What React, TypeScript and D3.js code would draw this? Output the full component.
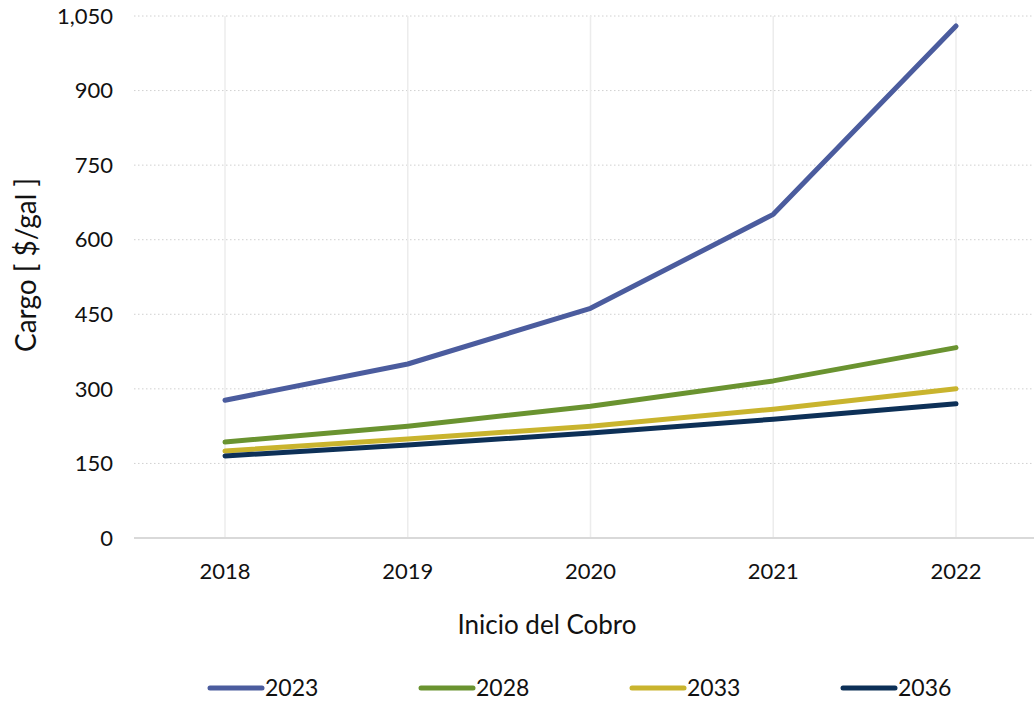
import * as d3 from 'd3';

const years = ['2018', '2019', '2020', '2021', '2022'];
const seriesNames = ['2023', '2028', '2033', '2036'];
const values2023 = [277, 350, 462, 651, 1030];
const values2028 = [193, 225, 265, 316, 383];
const values2033 = [175, 199, 225, 259, 300];
const values2036 = [165, 187, 211, 239, 270];
const yTicks = [0, 150, 300, 450, 600, 750, 900, 1050];
const colors = ['#4B5C9E', '#6A9330', '#C9B42E', '#0D3057'];

const W = 1034;
const H = 705;
const font = "Lato, 'Liberation Sans', Arial, sans-serif";

export default function App() {
  const allValues = [values2023, values2028, values2033, values2036];

  const x = d3.scalePoint<string>().domain(years).range([225, 956]);
  const y = d3.scaleLinear().domain([0, 1050]).range([538, 16]);

  const line = d3
    .line<number>()
    .x((_, i) => x(years[i]) as number)
    .y((d) => y(d));

  return (
    <svg
      width={W}
      height={H}
      style={{ position: 'absolute', left: 0, top: 0, background: '#fff' }}
      fontFamily={font}
    >
      {/* horizontal dotted grid */}
      {yTicks.slice(1).map((t) => (
        <line
          key={t}
          x1={134}
          x2={W}
          y1={y(t)}
          y2={y(t)}
          stroke="#d0d0d0"
          strokeWidth={1}
          strokeDasharray="1.5,2.5"
        />
      ))}
      {/* vertical grid at categories */}
      {years.map((yr) => (
        <line
          key={yr}
          x1={x(yr)}
          x2={x(yr)}
          y1={y(1050)}
          y2={y(0)}
          stroke="#ececec"
          strokeWidth={1.5}
        />
      ))}
      {/* baseline */}
      <line x1={134} x2={W} y1={y(0)} y2={y(0)} stroke="#d9d9d9" strokeWidth={2} />

      {/* y tick labels */}
      {yTicks.map((t) => (
        <text
          key={t}
          x={113}
          y={y(t)}
          dy="0.35em"
          textAnchor="end"
          fontSize={22}
          fill="#111"
        >
          {d3.format(',')(t)}
        </text>
      ))}

      {/* x tick labels */}
      {years.map((yr) => (
        <text
          key={yr}
          x={x(yr)}
          y={571}
          dy="0.35em"
          textAnchor="middle"
          fontSize={22}
          fill="#111"
        >
          {yr}
        </text>
      ))}

      {/* axis titles */}
      <text
        transform={`translate(36, ${y(0) - 273}) rotate(-90)`}
        textAnchor="middle"
        fontSize={28}
        fill="#111"
      >
        Cargo [ $/gal ]
      </text>
      <text x={547} y={625} dy="0.35em" textAnchor="middle" fontSize={26} fill="#111">
        Inicio del Cobro
      </text>

      {/* series lines */}
      {allValues.map((vals, i) => (
        <path
          key={seriesNames[i]}
          d={line(vals) || ''}
          fill="none"
          stroke={colors[i]}
          strokeWidth={5}
          strokeLinecap="round"
          strokeLinejoin="round"
        />
      ))}

      {/* legend */}
      {seriesNames.map((name, i) => {
        const lx = 210 + i * 211;
        return (
          <g key={name} transform={`translate(${lx}, 688)`}>
            <line x1={0} x2={52} y1={0} y2={0} stroke={colors[i]} strokeWidth={5} strokeLinecap="round" />
            <text x={55} y={0} dy="0.35em" fontSize={23} fill="#111">
              {name}
            </text>
          </g>
        );
      })}
    </svg>
  );
}
